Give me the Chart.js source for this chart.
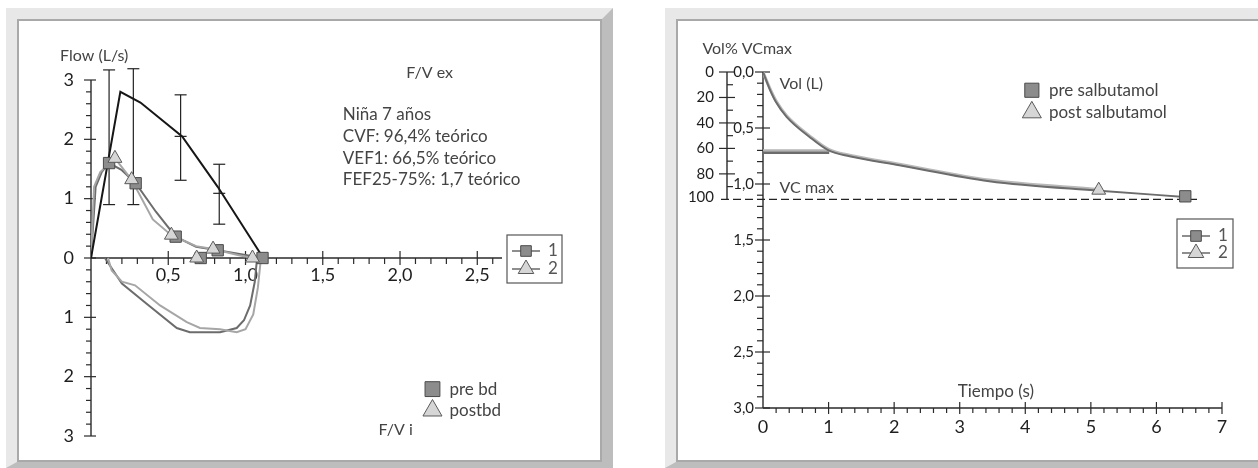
<!DOCTYPE html>
<html>
<head>
<meta charset="utf-8">
<script src="https://cdn.jsdelivr.net/npm/chart.js@4.4.1/dist/chart.umd.min.js"></script>
<style>
  body { margin: 0; width: 1258px; height: 468px; background: #fff; position: relative; overflow: hidden; }
  .panel {
    position: absolute; box-sizing: border-box; background: #fff;
    border-style: solid; border-color: #e8e8e8 #bdbdbd #bdbdbd #e8e8e8;
    border-width: 11px 11px 6px 11px;
  }
  .panel .inner { position: absolute; inset: 0; border: 2px solid #a9a9a9; }
  canvas { position: absolute; top: 0; }
</style>
</head>
<body>
<div class="panel" style="left:6px; top:8px; width:607px; height:460px;"><div class="inner"></div></div>
<div class="panel" style="left:665px; top:8px; width:640px; height:460px;"><div class="inner"></div></div>
<canvas id="fv" width="628" height="468" style="left:0"></canvas>
<canvas id="vt" width="628" height="468" style="left:630px"></canvas>
<script>
// ---------- Curva flujo / volumen (izquierda) ----------
const FV_X_TICKS = [0.5, 1.0, 1.5, 2.0, 2.5];
const FV_Y_TICKS = [3, 2, 1, 0, -1, -2, -3];

// teórico
const PRED_VOL  = [0, 0.19, 0.32, 0.59, 0.82, 1.115];
const PRED_FLOW = [0, 2.80, 2.62, 2.05, 1.20, 0];

// rangos de normalidad
const ERR_VOL  = [0.117, 0.274, 0.58, 0.83];
const ERR_HIGH = [3.17, 3.19, 2.75, 1.58];
const ERR_LOW  = [0.90, 0.90, 1.31, 0.57];
const ERR_MID  = [null, null, 2.05, 1.09];

// pre bd
const PRE_EX_VOL  = [0, 0.03, 0.07, 0.117, 0.20, 0.289, 0.42, 0.548, 0.68, 0.82, 1.00, 1.11];
const PRE_EX_FLOW = [0, 1.20, 1.45, 1.60, 1.48, 1.26, 0.78, 0.36, 0.19, 0.13, 0.05, 0];
const PRE_IN_VOL  = [0.09, 0.20, 0.36, 0.555, 0.64, 0.835, 0.943, 0.99, 1.03, 1.06, 1.075];
const PRE_IN_FLOW = [0, -0.43, -0.77, -1.18, -1.25, -1.25, -1.18, -1.05, -0.80, -0.40, 0];
const PRE_MARK_VOL  = [0.117, 0.289, 0.548, 0.71, 0.82, 1.11];
const PRE_MARK_FLOW = [1.60, 1.26, 0.36, 0, 0.13, 0];

// post bd
const POST_EX_VOL  = [0, 0.02, 0.06, 0.155, 0.263, 0.40, 0.52, 0.68, 0.79, 0.95, 1.045];
const POST_EX_FLOW = [0, 1.20, 1.45, 1.68, 1.32, 0.65, 0.385, 0.20, 0.15, 0.05, 0];
const POST_IN_VOL  = [0.11, 0.134, 0.20, 0.285, 0.447, 0.62, 0.705, 0.835, 0.943, 1.0, 1.05, 1.08, 1.10];
const POST_IN_FLOW = [0, -0.21, -0.40, -0.46, -0.80, -1.08, -1.18, -1.20, -1.25, -1.20, -0.95, -0.50, 0];
const POST_MARK_VOL  = [0.155, 0.263, 0.52, 0.684, 0.79, 1.045];
const POST_MARK_FLOW = [1.68, 1.32, 0.385, 0, 0.15, 0];

const FV_NOTES = ['Niña 7 años', 'CVF: 96,4% teórico', 'VEF1: 66,5% teórico', 'FEF25-75%: 1,7 teórico'];
const FV_GROUPS = ['pre bd', 'postbd'];

// ---------- Curva volumen / tiempo (derecha) ----------
const VT_TIME_TICKS = [0, 1, 2, 3, 4, 5, 6, 7];
const VT_VOL_TICKS  = [0, 0.5, 1.0, 1.5, 2.0, 2.5, 3.0];
const VT_PCT_TICKS  = [0, 20, 40, 60, 80, 100];
const VCMAX_L = 1.137;

const PRE_VT_TIME = [0, 0.1, 0.2, 0.36, 0.71, 1.0, 1.32, 2.08, 3.45, 5.13, 6.43];
const PRE_VT_VOL  = [0, 0.15, 0.27, 0.40, 0.58, 0.70, 0.753, 0.833, 0.975, 1.06, 1.115];
const POST_VT_TIME = [0, 0.1, 0.2, 0.36, 0.71, 1.0, 1.32, 2.08, 3.45, 5.13];
const POST_VT_VOL  = [0, 0.14, 0.26, 0.39, 0.57, 0.69, 0.743, 0.823, 0.965, 1.05];
const FEV1_TIME = [0, 1.01];
const PRE_FEV1 = 0.722;
const POST_FEV1 = 0.702;
const PRE_VT_MARK = { x: 6.44, y: 1.11 };
const POST_VT_MARK = { x: 5.12, y: 1.055 };

const VT_GROUPS = ['pre salbutamol', 'post salbutamol'];
const SERIES_KEYS = ['1', '2'];

// ---------- estilos ----------
const AXIS = '#2a2a2a';
const TICK_TXT = '#1e1e1e';
const NOTE_TXT = '#444';
const PRE_LINE = '#6c6c6c';
const POST_LINE = '#a6a6a6';
const PRE_FILL = '#8c8c8c', PRE_EDGE = '#4a4a4a';
const POST_FILL = '#d6d6d6', POST_EDGE = '#5a5a5a';

const pts = (xs, ys) => xs.map((x, i) => ({ x, y: ys[i] }));
const comma = (v, d) => v.toFixed(d).replace('.', ',');

function seg(ctx, x1, y1, x2, y2) {
  ctx.beginPath();
  ctx.moveTo(x1, y1);
  ctx.lineTo(x2, y2);
  ctx.stroke();
}

function marker(ctx, style, x, y, r) {
  ctx.save();
  ctx.fillStyle = style === 'rect' ? PRE_FILL : POST_FILL;
  ctx.strokeStyle = style === 'rect' ? PRE_EDGE : POST_EDGE;
  ctx.lineWidth = 1;
  Chart.helpers.drawPoint(ctx, { pointStyle: style, radius: r, rotation: 0, borderWidth: 1 }, x, y);
  ctx.restore();
}

function note(ctx, text, x, y, size = 16) {
  ctx.fillStyle = NOTE_TXT;
  ctx.font = size + 'px Lato';
  ctx.textAlign = 'left';
  ctx.textBaseline = 'middle';
  ctx.fillText(text, x, y);
}

// small "1 / 2" key box
function keyBox(ctx, left, top, w, h, firstRow, gap) {
  ctx.save();
  ctx.strokeStyle = '#555';
  ctx.lineWidth = 1.2;
  ctx.strokeRect(left, top, w, h);
  SERIES_KEYS.forEach((label, i) => {
    const y = top + firstRow + i * gap;
    ctx.strokeStyle = '#444';
    ctx.lineWidth = 1.2;
    seg(ctx, left + 5, y, left + 33, y);
    marker(ctx, i === 0 ? 'rect' : 'triangle', left + 19, y, i === 0 ? 7.5 : 9);
    ctx.fillStyle = '#555';
    ctx.font = '17px Lato';
    ctx.textAlign = 'center';
    ctx.textBaseline = 'middle';
    ctx.fillText(label, left + 46, y);
  });
  ctx.restore();
}

// group legend (square / triangle + text)
function groupLegend(ctx, labels, mx, tx, ys, r) {
  labels.forEach((label, i) => {
    marker(ctx, i === 0 ? 'rect' : 'triangle', mx, ys[i], r[i]);
    note(ctx, label, tx, ys[i], 17);
  });
}

const lineDs = (data, color, width, order) => ({
  data, showLine: true, borderColor: color, borderWidth: width,
  pointRadius: 0, tension: 0, fill: false, order
});
const markDs = (data, style, order) => ({
  data, showLine: false, pointStyle: style, pointRadius: 8,
  backgroundColor: style === 'rect' ? PRE_FILL : POST_FILL,
  borderColor: style === 'rect' ? PRE_EDGE : POST_EDGE,
  borderWidth: 1, order
});

// ---------- flujo / volumen ----------
const fvAxes = {
  id: 'fvAxes',
  beforeDatasetsDraw(chart) {
    const { ctx, scales: { x, y } } = chart;
    const x0 = x.getPixelForValue(0), y0 = y.getPixelForValue(0);
    ctx.save();
    ctx.strokeStyle = AXIS;
    ctx.lineWidth = 1.4;
    seg(ctx, x0, y.getPixelForValue(3), x0, y.getPixelForValue(-3));
    seg(ctx, x0, y0, x.right, y0);
    ctx.lineWidth = 1.2;
    for (let i = -15; i <= 15; i++) {
      const py = y.getPixelForValue(i / 5);
      if (i % 5 === 0) seg(ctx, x0 - 7, py, x0 + 5, py);
      else seg(ctx, x0 - 5, py, x0, py);
    }
    for (let i = 1; i <= 26; i++) {
      const px = x.getPixelForValue(i / 10);
      if (i % 5 === 0) seg(ctx, px, y0 - 7, px, y0 + 7);
      else seg(ctx, px, y0, px, y0 + 6);
    }
    ctx.fillStyle = TICK_TXT;
    ctx.font = '18px Lato';
    ctx.textBaseline = 'middle';
    ctx.textAlign = 'right';
    FV_Y_TICKS.forEach(v => ctx.fillText(String(Math.abs(v)), x0 - 17, y.getPixelForValue(v)));
    ctx.textAlign = 'center';
    FV_X_TICKS.forEach(v => ctx.fillText(comma(v, 1), x.getPixelForValue(v), y0 + 17));

    // error bars of the reference values
    ctx.strokeStyle = '#222';
    ctx.lineWidth = 1.2;
    ERR_VOL.forEach((v, i) => {
      const px = x.getPixelForValue(v);
      const hi = y.getPixelForValue(ERR_HIGH[i]), lo = y.getPixelForValue(ERR_LOW[i]);
      seg(ctx, px, hi, px, lo);
      seg(ctx, px - 6, hi, px + 6, hi);
      seg(ctx, px - 6, lo, px + 6, lo);
      if (ERR_MID[i] !== null) {
        const m = y.getPixelForValue(ERR_MID[i]);
        seg(ctx, px - 6, m, px + 6, m);
      }
    });
    ctx.restore();
  },
  afterDraw(chart) {
    const { ctx, scales: { x, y } } = chart;
    ctx.save();
    note(ctx, 'Flow (L/s)', x.getPixelForValue(-0.2), y.getPixelForValue(3.4));
    note(ctx, 'F/V ex', x.getPixelForValue(2.04), y.getPixelForValue(3.12));
    const nx = x.getPixelForValue(1.63), ny = y.getPixelForValue(2.41);
    FV_NOTES.forEach((t, i) => note(ctx, t, nx, ny + i * 21.6, 17));
    note(ctx, 'F/V i', x.getPixelForValue(1.86), y.getPixelForValue(-2.9));
    groupLegend(ctx, FV_GROUPS, x.getPixelForValue(2.21), x.getPixelForValue(2.32),
      [y.getPixelForValue(-2.21), y.getPixelForValue(-2.57)], [10.5, 11]);
    keyBox(ctx, 507, 235, 55, 48, 16, 18);
    ctx.restore();
  }
};

new Chart(document.getElementById('fv'), {
  type: 'scatter',
  data: {
    datasets: [
      markDs(pts(PRE_MARK_VOL, PRE_MARK_FLOW), 'rect', 1),
      markDs(pts(POST_MARK_VOL, POST_MARK_FLOW), 'triangle', 0),
      lineDs(pts(PRED_VOL, PRED_FLOW), '#161616', 2, 4),
      lineDs(pts(PRE_EX_VOL, PRE_EX_FLOW), PRE_LINE, 2, 6),
      lineDs(pts(POST_EX_VOL, POST_EX_FLOW), POST_LINE, 2, 5),
      lineDs(pts(PRE_IN_VOL, PRE_IN_FLOW), PRE_LINE, 2, 6),
      lineDs(pts(POST_IN_VOL, POST_IN_FLOW), POST_LINE, 2, 5)
    ]
  },
  options: {
    responsive: false,
    animation: false,
    events: [],
    layout: { padding: { left: 91, right: 126, top: 80, bottom: 32 } },
    plugins: { legend: { display: false }, tooltip: { enabled: false } },
    scales: {
      x: { type: 'linear', display: false, min: 0, max: 2.66 },
      y: { type: 'linear', display: false, min: -3, max: 3 }
    }
  },
  plugins: [fvAxes]
});

// ---------- volumen / tiempo ----------
const vtAxes = {
  id: 'vtAxes',
  beforeDatasetsDraw(chart) {
    const { ctx, scales: { x, y, yPct } } = chart;
    const x0 = x.getPixelForValue(0);
    const yb = y.getPixelForValue(3);
    const xp = x0 - 36;
    ctx.save();
    ctx.strokeStyle = AXIS;
    ctx.lineWidth = 1.4;
    seg(ctx, x0, y.getPixelForValue(0), x0, yb);
    seg(ctx, x0, yb, x.getPixelForValue(7), yb);
    seg(ctx, xp, yPct.getPixelForValue(0), xp, yPct.getPixelForValue(100));
    ctx.lineWidth = 1.2;
    for (let i = 0; i <= 30; i++) {
      const py = y.getPixelForValue(i / 10);
      if (i % 5 === 0) seg(ctx, x0 - 8, py, x0 + 7, py);
      else seg(ctx, x0 - 6, py, x0, py);
    }
    for (let i = 1; i <= 35; i++) {
      const px = x.getPixelForValue(i / 5);
      if (i % 5 === 0) seg(ctx, px, yb - 6, px, yb + 6);
      else seg(ctx, px, yb, px, yb + 5);
    }
    for (let i = 0; i < 10; i++) {
      const py = yPct.getPixelForValue(i * 10);
      if (i % 2 === 0) seg(ctx, xp - 8, py, xp + 8, py);
      else seg(ctx, xp, py, xp + 6, py);
    }
    ctx.fillStyle = TICK_TXT;
    ctx.textBaseline = 'middle';
    ctx.textAlign = 'right';
    ctx.font = '15px Lato';
    VT_VOL_TICKS.forEach(v => ctx.fillText(comma(v, 1), x0 - 9, y.getPixelForValue(v)));
    VT_PCT_TICKS.forEach(v => ctx.fillText(String(v), xp - 13, yPct.getPixelForValue(v) - (v === 100 ? 2 : 0)));
    ctx.textAlign = 'center';
    ctx.font = '18px Lato';
    VT_TIME_TICKS.forEach(v => ctx.fillText(String(v), x.getPixelForValue(v), yb + 19));

    // VC max reference
    const yv = yPct.getPixelForValue(100);
    ctx.strokeStyle = '#222';
    ctx.lineWidth = 1.3;
    ctx.setLineDash([8, 4]);
    seg(ctx, xp - 6, yv, x.getPixelForValue(6.66), yv);
    ctx.setLineDash([]);
    ctx.restore();
  },
  afterDraw(chart) {
    const { ctx, scales: { x, y } } = chart;
    ctx.save();
    note(ctx, 'Vol% VCmax', x.getPixelForValue(-0.924), y.getPixelForValue(-0.209));
    note(ctx, 'Vol (L)', x.getPixelForValue(0.253), y.getPixelForValue(0.11));
    note(ctx, 'VC max', x.getPixelForValue(0.253), y.getPixelForValue(1.036));
    note(ctx, 'Tiempo (s)', x.getPixelForValue(2.97), y.getPixelForValue(2.857), 17);
    groupLegend(ctx, VT_GROUPS, x.getPixelForValue(4.1), x.getPixelForValue(4.36),
      [y.getPixelForValue(0.163), y.getPixelForValue(0.36)], [10, 11]);
    keyBox(ctx, 547, 219, 56, 49, 17, 17);
    ctx.restore();
  }
};

new Chart(document.getElementById('vt'), {
  type: 'scatter',
  data: {
    datasets: [
      markDs([PRE_VT_MARK], 'rect', 0),
      markDs([POST_VT_MARK], 'triangle', 1),
      { ...lineDs(pts(PRE_VT_TIME, PRE_VT_VOL), PRE_LINE, 2, 3), tension: 0.4, cubicInterpolationMode: 'monotone' },
      { ...lineDs(pts(POST_VT_TIME, POST_VT_VOL), '#b9b9b9', 3, 4), tension: 0.4, cubicInterpolationMode: 'monotone' },
      lineDs(pts(FEV1_TIME, [PRE_FEV1, PRE_FEV1]), PRE_LINE, 2.5, 3),
      lineDs(pts(FEV1_TIME, [POST_FEV1, POST_FEV1]), '#b4b4b4', 2.5, 4)
    ]
  },
  options: {
    responsive: false,
    animation: false,
    events: [],
    layout: { padding: { left: 133, right: 36, top: 72, bottom: 60 } },
    plugins: { legend: { display: false }, tooltip: { enabled: false } },
    scales: {
      x: { type: 'linear', display: false, min: 0, max: 7 },
      y: { type: 'linear', display: false, min: 0, max: 3, reverse: true },
      yPct: { type: 'linear', display: false, min: 0, max: 300 / VCMAX_L, reverse: true }
    }
  },
  plugins: [vtAxes]
});
</script>
</body>
</html>
